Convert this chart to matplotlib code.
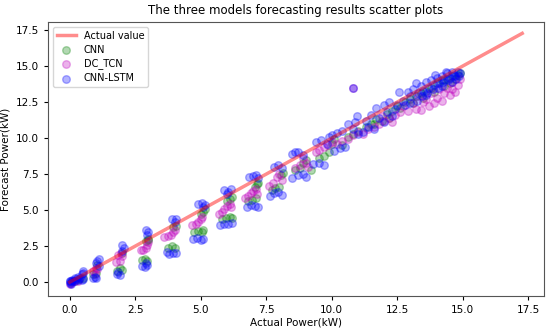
import matplotlib
matplotlib.use("Agg")
import matplotlib.pyplot as plt

# === DATA ===

# ideal line: forecast == actual
line_x = [0.0, 17.27]
line_y = [0.0, 17.27]

# CNN
cnn_x = [0.05, 0.2, 0.35, 0.5,
         0.9, 1.0, 1.05,
         1.8, 1.9, 2.0, 2.0,
         2.75, 2.85, 2.95, 2.9, 3.0, 3.0,
         3.75, 3.9, 4.0, 3.95, 4.05,
         4.75, 4.9, 5.05, 5.1, 5.0, 5.1, 5.15,
         5.8, 5.95, 6.1, 6.2, 6.0, 6.1, 6.2,
         6.8, 6.95, 7.1, 7.05, 7.15, 7.2,
         7.7, 7.85, 8.0, 8.05, 8.15,
         8.6, 8.8, 9.2, 8.9, 9.0,
         9.5, 9.7, 9.9, 10.1, 10.0,
         10.4, 10.6, 10.8, 11.0, 11.3, 11.5, 11.7, 11.9, 12.1, 12.3, 12.5,
         12.8, 13.0, 13.2, 13.4, 13.6, 13.8, 14.0, 14.2, 14.4, 14.6, 14.8, 14.7, 14.5,
         12.6, 13.1, 13.5, 13.9, 14.3, 14.9, 11.6, 12.2]
cnn_y = [0.0, 0.1, 0.2, 0.3,
         0.55, 0.6, 1.2,
         0.8, 0.95, 0.85, 2.0,
         1.55, 1.6, 1.45, 2.85, 3.0, 2.9,
         2.4, 2.5, 2.35, 3.8, 3.9,
         3.45, 3.55, 3.5, 3.6, 4.7, 4.9, 5.05,
         4.4, 4.45, 4.5, 4.45, 5.6, 5.8, 5.9,
         5.6, 5.7, 5.85, 6.6, 6.8, 6.9,
         6.4, 6.5, 6.6, 7.4, 7.6,
         7.8, 7.9, 7.8, 8.3, 8.5,
         8.6, 8.75, 9.0, 9.9, 9.6,
         9.5, 10.1, 10.3, 10.5, 10.8, 11.0, 11.3, 11.2, 11.7, 11.9, 12.2,
         12.5, 12.7, 12.9, 13.1, 13.3, 13.5, 13.8, 14.0, 14.1, 14.3, 14.4, 14.1, 13.8,
         12.1, 12.4, 12.8, 13.2, 13.6, 14.5, 11.0, 11.4]

# DC_TCN
tcn_x = [0.0, 0.05, 0.15, 0.3,
         0.9, 1.0, 1.05, 0.95,
         1.75, 1.85, 1.95, 2.0, 1.9,
         2.7, 2.8, 2.9, 2.95, 3.0,
         3.6, 3.75, 3.85, 3.95, 4.0,
         4.65, 4.8, 4.9, 5.0, 5.05,
         5.7, 5.8, 5.9, 6.0, 6.1, 6.15,
         6.7, 6.8, 6.9, 7.0, 7.1, 7.15,
         7.6, 7.75, 7.9, 8.0, 8.1,
         8.6, 8.8, 9.0, 9.1, 8.9,
         9.4, 9.5, 9.7, 9.85, 10.0,
         10.2, 10.4, 10.6, 10.8, 11.0, 11.2, 11.4, 11.6, 11.8, 12.0, 12.2, 12.4, 12.6,
         10.8,
         12.9, 13.2, 13.4, 13.6, 13.7, 13.9, 14.0, 14.2, 14.3, 14.5, 14.6, 14.8, 14.7, 14.4, 13.5, 13.1,
         12.7, 13.3, 13.8, 14.1, 14.6, 14.9, 12.3, 11.9]
tcn_y = [-0.15, -0.05, 0.05, 0.1,
         0.75, 1.0, 0.9, 0.55,
         1.4, 1.9, 2.0, 1.8, 1.45,
         2.2, 2.25, 2.35, 2.6, 2.8,
         3.1, 3.2, 3.3, 3.45, 3.6,
         3.95, 4.0, 4.2, 4.4, 4.5,
         4.7, 4.85, 5.05, 5.3, 5.45, 5.2,
         5.85, 6.0, 6.2, 6.3, 6.45, 6.1,
         6.7, 6.9, 7.3, 7.5, 7.1,
         7.95, 8.1, 8.3, 8.0, 8.6,
         9.0, 9.2, 9.4, 9.55, 9.7,
         9.6, 9.8, 9.9, 10.2, 10.4, 10.3, 10.6, 10.8, 11.0, 11.2, 11.4, 11.6, 11.8,
         13.45,
         11.9, 12.0, 11.95, 12.7, 12.2, 12.4, 12.8, 12.6, 13.1, 13.0, 13.4, 13.7, 13.2, 13.5, 12.5, 12.4,
         12.2, 12.9, 13.1, 13.4, 13.9, 14.1, 11.1, 11.5]

# CNN-LSTM
lstm_x = [0.0, 0.0, 0.02, 0.05, 0.1, 0.1, 0.15, 0.2, 0.25, 0.3, 0.3, 0.4, 0.45, 0.5, 0.5, 0.45, 0.5,
          0.9, 0.95, 1.0, 1.05, 1.1, 1.0, 1.1,
          1.8, 1.9, 1.85, 2.0, 2.05, 2.0,
          2.75, 2.85, 2.9, 2.95, 2.9, 3.0, 2.95,
          3.7, 3.8, 3.95, 4.05, 3.9, 4.0, 4.05,
          4.7, 4.85, 5.0, 5.1, 4.9, 5.05, 5.15, 5.1,
          5.75, 5.9, 6.05, 6.2, 5.9, 6.05, 6.15, 6.0,
          6.75, 6.9, 7.05, 7.2, 6.85, 7.0, 7.1, 7.2,
          7.65, 7.8, 7.95, 8.1, 7.8, 7.95, 8.1,
          8.5, 8.7, 8.9, 9.0, 8.5, 8.7, 8.9, 8.6,
          9.3, 9.5, 9.7, 9.4, 9.6, 9.8, 9.9,
          10.1, 10.3, 10.5, 10.0, 10.2, 10.4, 10.6, 10.9, 10.8, 10.95,
          10.8,
          11.2, 11.4, 11.6, 11.7, 11.5, 11.8, 12.0, 12.1, 12.3, 12.2, 12.5, 12.55, 12.7, 12.9,
          13.0, 13.1, 13.2, 13.3, 13.4, 13.5, 13.6, 13.7, 13.8, 13.9, 14.0, 14.1, 14.2, 14.3,
          14.4, 14.5, 14.6, 14.7, 14.8, 14.6, 14.2, 13.6, 13.0,
          12.4, 12.8, 13.25, 13.45, 13.65, 13.85, 14.05, 14.25, 14.45, 14.65, 14.85, 14.9,
          13.95, 14.35, 14.75, 12.0, 11.0, 11.3]
lstm_y = [-0.05, 0.05, 0.1, -0.1, 0.05, 0.15, 0.1, 0.25, 0.2, 0.35, 0.15, 0.3, 0.55, 0.8, 0.65, 0.15, 0.2,
          0.3, 0.35, 0.25, 1.45, 1.6, 1.3, 1.1,
          0.55, 0.5, 0.7, 2.6, 2.4, 2.15,
          1.1, 1.05, 1.3, 1.2, 3.65, 3.45, 3.3,
          2.1, 1.95, 2.0, 2.05, 4.35, 4.2, 4.4,
          3.0, 3.05, 2.95, 3.0, 5.45, 5.5, 5.35, 5.2,
          3.95, 4.05, 4.0, 4.1, 6.4, 6.25, 6.45, 6.1,
          5.2, 5.35, 5.25, 5.2, 7.3, 7.35, 7.4, 7.2,
          6.0, 6.2, 6.25, 6.05, 8.0, 8.1, 7.9,
          7.2, 7.4, 7.5, 7.3, 8.9, 9.0, 8.8, 9.0,
          8.2, 8.3, 8.1, 9.7, 9.85, 9.6, 10.1,
          9.1, 9.3, 9.4, 10.2, 10.35, 10.5, 11.0, 11.1, 10.6, 11.5,
          13.45,
          10.4, 10.8, 10.6, 12.1, 11.6, 11.4, 12.3, 11.8, 11.5, 12.5, 12.3, 13.2, 12.6, 13.2,
          12.9, 13.4, 13.8, 13.1, 13.6, 13.3, 13.9, 13.5, 14.05, 13.7, 14.2, 13.8, 14.3, 14.0,
          14.5, 14.2, 14.6, 14.3, 14.6, 13.9, 13.6, 13.0, 12.4,
          12.0, 12.3, 12.6, 12.9, 13.1, 13.4, 13.5, 13.9, 14.0, 14.4, 14.3, 14.5,
          14.4, 14.6, 14.1, 11.1, 10.3, 11.2]

# === PLOT ===

fig = plt.figure(figsize=(5.5, 3.33), dpi=100)
ax = fig.add_axes([0.087, 0.111, 0.902, 0.823])

ax.plot(line_x, line_y, color='red', alpha=0.45, linewidth=2.5, label='Actual value')
ax.scatter(cnn_x, cnn_y, s=30, color='green', alpha=0.3, label='CNN')
ax.scatter(tcn_x, tcn_y, s=30, color='m', alpha=0.3, label='DC_TCN')
ax.scatter(lstm_x, lstm_y, s=30, color='blue', alpha=0.3, label='CNN-LSTM')

ax.set_xlim(-0.84, 18.1)
ax.set_ylim(-0.97, 18.06)
ax.set_xticks([0.0, 2.5, 5.0, 7.5, 10.0, 12.5, 15.0, 17.5])
ax.set_yticks([0.0, 2.5, 5.0, 7.5, 10.0, 12.5, 15.0, 17.5])
ax.tick_params(labelsize=7.5, length=3)

ax.set_title("The three models forecasting results scatter plots", fontsize=8.5)
ax.set_xlabel("Actual Power(kW)", fontsize=7.5, labelpad=2)
ax.set_ylabel("Forecast Power(kW)", fontsize=7.5, labelpad=4)
ax.legend(loc='upper left', fontsize=7, borderpad=0.4, labelspacing=0.4)

for spine in ax.spines.values():
    spine.set_color('#555555')

fig.savefig("out.png", dpi=100)
